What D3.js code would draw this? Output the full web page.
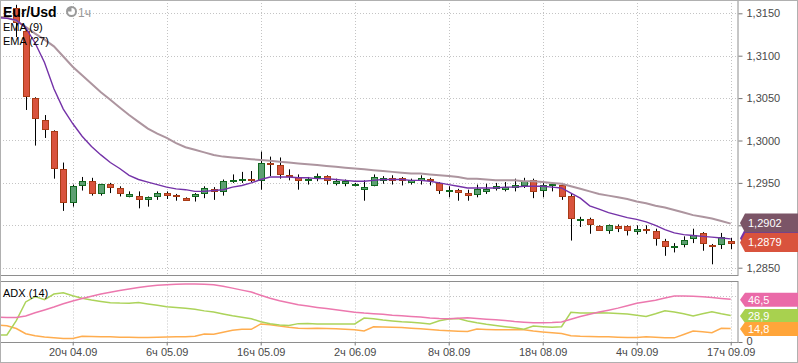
<!DOCTYPE html>
<html><head><meta charset="utf-8">
<script src="https://cdnjs.cloudflare.com/ajax/libs/d3/7.8.5/d3.min.js"></script>
<style>
body{margin:0;background:#fff;}
svg{display:block;font-family:"Liberation Sans",Arial,sans-serif;}
</style>
</head><body>
<svg id="c" width="798" height="363"></svg>
<script>
// ---------- DATA ----------
const opens  = [1.3156,1.3129,1.3050,1.3024,1.3011,1.2966,1.2928,1.2947,1.2952,1.2938,1.2949,1.2944,1.2935,1.2935,1.2931,1.2935,1.2938,1.2936,1.2932,1.2934,1.2938,1.2943,1.2940,1.2953,1.2954,1.2955,1.2953,1.2973,1.2971,1.2959,1.2957,1.2953,1.2957,1.2958,1.2950,1.2950,1.2947,1.2943,1.2947,1.2954,1.2956,1.2956,1.2951,1.2954,1.2955,1.2950,1.2940,1.2942,1.2938,1.2937,1.2941,1.2944,1.2943,1.2945,1.2948,1.2953,1.2942,1.2947,1.2948,1.2935,1.2906,1.2907,1.2899,1.2895,1.2899,1.2899,1.2893,1.2896,1.2893,1.2882,1.2874,1.2878,1.2885,1.2891,1.2877,1.2878,1.2882];
const highs  = [1.3160,1.3130,1.3051,1.3030,1.3012,1.2974,1.2948,1.2957,1.2956,1.2949,1.2950,1.2946,1.2940,1.2940,1.2934,1.2940,1.2940,1.2937,1.2933,1.2938,1.2946,1.2945,1.2954,1.2960,1.2963,1.2964,1.2987,1.2981,1.2980,1.2966,1.2960,1.2957,1.2961,1.2959,1.2955,1.2954,1.2950,1.2953,1.2960,1.2958,1.2959,1.2957,1.2955,1.2959,1.2956,1.2951,1.2946,1.2943,1.2942,1.2948,1.2949,1.2950,1.2951,1.2955,1.2956,1.2955,1.2951,1.2951,1.2950,1.2937,1.2910,1.2909,1.2900,1.2901,1.2901,1.2900,1.2900,1.2900,1.2896,1.2884,1.2879,1.2887,1.2896,1.2892,1.2878,1.2891,1.2885];
const lows   = [1.3122,1.3036,1.2994,1.3003,1.2955,1.2917,1.2922,1.2941,1.2935,1.2935,1.2938,1.2934,1.2933,1.2920,1.2922,1.2930,1.2931,1.2929,1.2929,1.2928,1.2932,1.2930,1.2935,1.2950,1.2950,1.2951,1.2942,1.2958,1.2955,1.2953,1.2942,1.2948,1.2952,1.2948,1.2947,1.2946,1.2946,1.2929,1.2946,1.2949,1.2948,1.2947,1.2948,1.2948,1.2947,1.2937,1.2933,1.2929,1.2929,1.2933,1.2937,1.2941,1.2940,1.2940,1.2944,1.2932,1.2933,1.2940,1.2930,1.2882,1.2898,1.2890,1.2894,1.2890,1.2892,1.2888,1.2889,1.2890,1.2876,1.2864,1.2868,1.2874,1.2879,1.2870,1.2854,1.2872,1.2872];
const closes = [1.3140,1.3052,1.3026,1.3013,1.2967,1.2928,1.2946,1.2952,1.2938,1.2949,1.2945,1.2938,1.2937,1.2931,1.2933,1.2938,1.2936,1.2934,1.2930,1.2937,1.2944,1.2940,1.2952,1.2954,1.2955,1.2954,1.2974,1.2972,1.2961,1.2958,1.2953,1.2955,1.2958,1.2953,1.2952,1.2952,1.2949,1.2945,1.2957,1.2956,1.2954,1.2954,1.2953,1.2956,1.2953,1.2942,1.2942,1.2939,1.2936,1.2943,1.2943,1.2946,1.2945,1.2947,1.2952,1.2940,1.2948,1.2949,1.2935,1.2909,1.2908,1.2901,1.2895,1.2900,1.2897,1.2894,1.2896,1.2894,1.2885,1.2876,1.2876,1.2883,1.2889,1.2879,1.2875,1.2886,1.2879];

// indicator series start two bars before the first visible candle
const indStart = -2;
const ema9  = [1.3145,1.3144,1.3142,1.3133,1.3115,1.3092,1.3061,1.3037,1.3020,1.3005,1.2993,1.2983,1.2974,1.2967,1.2959,1.2954,1.2951,1.2948,1.2945,1.2943,1.2942,1.2940,1.2940,1.2941,1.2942,1.2945,1.2947,1.2950,1.2954,1.2957,1.2957,1.2957,1.2956,1.2956,1.2955,1.2955,1.2954,1.2953,1.2952,1.2952,1.2953,1.2954,1.2954,1.2954,1.2953,1.2953,1.2952,1.2950,1.2948,1.2946,1.2944,1.2944,1.2944,1.2944,1.2945,1.2945,1.2946,1.2946,1.2946,1.2945,1.2944,1.2938,1.2932,1.2923,1.2919,1.2915,1.2912,1.2909,1.2907,1.2904,1.2900,1.2895,1.2891,1.2889,1.2888,1.2887,1.2886,1.2885,1.2884];
const ema27 = [1.3146,1.3145,1.3141,1.3134,1.3126,1.3119,1.3111,1.3099,1.3087,1.3077,1.3067,1.3057,1.3048,1.3039,1.3030,1.3022,1.3014,1.3008,1.3003,1.2997,1.2992,1.2989,1.2986,1.2983,1.2981,1.2980,1.2979,1.2978,1.2977,1.2976,1.2975,1.2974,1.2973,1.2972,1.2971,1.2970,1.2969,1.2968,1.2967,1.2966,1.2965,1.2964,1.2963,1.2962,1.2961,1.2961,1.2960,1.2959,1.2958,1.2957,1.2955,1.2955,1.2954,1.2953,1.2953,1.2953,1.2952,1.2952,1.2951,1.2950,1.2949,1.2946,1.2943,1.2940,1.2937,1.2935,1.2933,1.2931,1.2928,1.2926,1.2923,1.2921,1.2918,1.2915,1.2912,1.2910,1.2908,1.2905,1.2902];
const adx     = [26.9,26.7,26.7,28.4,31.8,34.9,38.1,41.6,44.6,47.3,49.8,52.2,54.1,56.1,57.7,59.3,60.7,61.7,62.4,62.9,63.2,63.2,63.0,62.3,60.7,58.7,56.5,54.4,50.9,47.7,45.0,42.7,40.6,39.1,37.7,36.5,35.2,33.8,32.5,31.5,30.8,30.2,29.2,28.5,27.9,27.1,26.1,25.5,25.2,25.8,26.5,25.6,24.8,24.2,23.4,22.3,21.6,21.0,21.0,21.2,21.9,24.8,27.8,30.3,32.7,34.7,36.9,39.5,42.2,43.8,45.5,47.9,50.1,50.1,49.9,49.2,48.6,47.5,46.5];
const diPlus  = [7.6,7.6,23.2,43.6,49.5,46.0,52.3,53.7,50.3,47.7,45.8,44.2,42.8,42.4,42.3,42.9,41.4,40.0,38.5,37.6,36.7,35.7,33.9,32.7,30.5,28.5,27.0,25.4,22.0,19.8,18.4,17.9,20.0,20.1,19.6,19.6,19.6,19.6,19.7,26.1,25.3,24.0,23.0,22.0,21.4,20.6,19.6,23.1,25.1,25.5,22.9,20.9,19.3,18.0,16.7,15.4,13.9,17.4,16.7,16.1,16.7,32.4,31.6,31.6,31.9,31.5,31.0,30.5,29.1,27.7,30.7,34.1,32.7,30.7,28.3,30.7,33.0,30.7,28.9];
const diMinus = [18.5,17.8,14.7,9.0,6.8,5.4,4.6,3.9,3.8,6.2,6.0,5.8,5.6,5.3,5.1,4.8,4.8,5.1,5.4,5.6,5.7,6.2,8.7,8.5,10.7,12.9,13.9,13.8,19.7,18.8,17.3,16.0,15.0,14.7,14.9,14.6,14.3,14.0,13.3,12.1,16.6,16.3,16.1,15.7,15.0,14.3,13.5,12.7,12.2,11.7,11.4,14.2,13.7,13.3,13.3,13.6,13.3,12.0,11.0,10.1,9.2,6.8,6.3,6.1,5.8,5.6,5.2,4.9,5.0,5.8,5.2,4.6,4.5,8.2,12.0,11.1,10.2,14.9,14.8];

const priceTicks = [1.2850,1.2900,1.2950,1.3000,1.3050,1.3100,1.3150];
const priceLabelled = [1.2850,1.2950,1.3000,1.3050,1.3100,1.3150]; // 1,2900 sits behind the value tags
const adxTicks   = [0];
const adxGrid    = [50];
const timeTickIdx   = [6,16,26,36,46,56,66,76];
const timeTickLabels= ["20ч 04.09","6ч 05.09","16ч 05.09","2ч 06.09","8ч 08.09","18ч 08.09","4ч 09.09","17ч 09.09"];

// ---------- LAYOUT ----------
const R = 738;
const mainTop = 0, mainBot = 275;
const adxTop = 281.5, adxBot = 342;

const svg = d3.select("#c");
const x  = d3.scaleLinear().domain([0,76]).range([16.3,730.7]);
const y  = d3.scaleLinear().domain([1.2850,1.3150]).range([267.7,13.3]);
const ya = d3.scaleLinear().domain([0,50]).range([342,296.1]);
const fmtP = v => d3.format(".4f")(v).replace(".",",");
const fmtA = v => d3.format(".1f")(v).replace(".",",");

const defs = svg.append("defs");
defs.append("clipPath").attr("id","cm").append("rect").attr("x",0).attr("y",mainTop).attr("width",R).attr("height",mainBot-mainTop);
defs.append("clipPath").attr("id","ca").append("rect").attr("x",0).attr("y",adxTop).attr("width",R).attr("height",adxBot-adxTop);

svg.append("rect").attr("width",798).attr("height",363).attr("fill","#fff");

// ---------- GRID ----------
const grid = svg.append("g").attr("stroke","#c4c4c4").attr("stroke-dasharray","1,2").attr("stroke-width",1);
priceTicks.forEach(v=>{
  const yy = Math.round(y(v))+0.5;
  grid.append("line").attr("x1",0).attr("x2",R).attr("y1",yy).attr("y2",yy);
});
adxGrid.forEach(v=>{
  const yy = Math.round(ya(v))+0.5;
  grid.append("line").attr("x1",0).attr("x2",R).attr("y1",yy).attr("y2",yy);
});
timeTickIdx.forEach(i=>{
  const xx = Math.round(x(i))+0.5;
  grid.append("line").attr("x1",xx).attr("x2",xx).attr("y1",mainTop).attr("y2",mainBot);
  grid.append("line").attr("x1",xx).attr("x2",xx).attr("y1",adxTop).attr("y2",adxBot);
});

// ---------- CANDLES ----------
const gc = svg.append("g").attr("clip-path","url(#cm)");
const candles = opens.map((o,i)=>({i,o,h:highs[i],l:lows[i],c:closes[i]}));
gc.selectAll("line.w").data(candles).enter().append("line")
  .attr("x1",d=>Math.round(x(d.i))+0.5).attr("x2",d=>Math.round(x(d.i))+0.5)
  .attr("y1",d=>y(d.h)).attr("y2",d=>y(d.l))
  .attr("stroke","#000").attr("stroke-width",1);
gc.selectAll("rect.b").data(candles).enter().append("rect")
  .attr("x",d=>Math.round(x(d.i))-2.5)
  .attr("width",6)
  .attr("y",d=>Math.round(y(Math.max(d.o,d.c)))+0.5)
  .attr("height",d=>Math.max(1,Math.round(y(Math.min(d.o,d.c)))-Math.round(y(Math.max(d.o,d.c)))))
  .attr("fill",d=>d.c>=d.o?"#5d9f72":"#d9533d")
  .attr("stroke",d=>d.c>=d.o?"#11691f":"#a83c16")
  .attr("stroke-width",1);

// ---------- EMA LINES ----------
const lineP = d3.line().x((d,k)=>x(k+indStart)).y(d=>y(d));
gc.append("path").attr("d",lineP(ema27)).attr("fill","none").attr("stroke","#ad959f").attr("stroke-width",2);
gc.append("path").attr("d",lineP(ema9)).attr("fill","none").attr("stroke","#7432a8").attr("stroke-width",1.4);

// ---------- ADX LINES ----------
const ga = svg.append("g").attr("clip-path","url(#ca)");
const lineA = d3.line().x((d,k)=>x(k+indStart)).y(d=>ya(d));
ga.append("path").attr("d",lineA(diMinus)).attr("fill","none").attr("stroke","#ffad4f").attr("stroke-width",1.5);
ga.append("path").attr("d",lineA(diPlus)).attr("fill","none").attr("stroke","#acd35a").attr("stroke-width",1.5);
ga.append("path").attr("d",lineA(adx)).attr("fill","none").attr("stroke","#ec78ae").attr("stroke-width",1.5);

// ---------- BORDERS ----------
const bc = "#8e8e8e";
svg.append("rect").attr("x",0.5).attr("y",0.5).attr("width",R-0.5).attr("height",mainBot).attr("fill","none").attr("stroke",bc);
svg.append("rect").attr("x",0.5).attr("y",adxTop).attr("width",R-0.5).attr("height",adxBot-adxTop+0.5).attr("fill","none").attr("stroke",bc);
svg.append("rect").attr("x",0.5).attr("y",0.5).attr("width",797).attr("height",362).attr("fill","none").attr("stroke","#b0b0b0");

// ---------- AXES ----------
function styleAxis(g){
  g.select(".domain").remove();
  g.selectAll(".tick line").attr("stroke","#777");
  g.selectAll(".tick text").attr("fill","#4a4a4a").attr("font-size","11px").attr("font-family","Liberation Sans, Arial, sans-serif");
}
svg.append("g").attr("transform",`translate(${R+0.5},0)`)
  .call(d3.axisRight(y).tickValues(priceTicks).tickFormat(v=>priceLabelled.includes(v)?fmtP(v):"").tickSize(4).tickPadding(4))
  .call(styleAxis);
svg.append("g").attr("transform",`translate(${R+0.5},0)`)
  .call(d3.axisRight(ya).tickValues(adxTicks).tickFormat(d=>String(d)).tickSize(4).tickPadding(4))
  .call(styleAxis)
  .call(g=>g.selectAll(".tick text").attr("dy","0.2em"));
svg.append("g").attr("transform",`translate(0,${adxBot+0.5})`)
  .call(d3.axisBottom(x).tickValues(timeTickIdx).tickFormat((d,k)=>timeTickLabels[k]).tickSize(3).tickPadding(3))
  .call(styleAxis);

// ---------- LAST VALUE LABELS ----------
function tag(cy, h, color, txt){
  const top = cy - h/2, bot = cy + h/2;
  svg.append("path")
    .attr("d",`M${R+2},${cy} L${R+7},${top} L798,${top} L798,${bot} L${R+7},${bot} Z`)
    .attr("fill",color);
  if(txt) svg.append("text").attr("x",R+10).attr("y",cy).attr("dy","0.35em")
    .attr("fill","#fff").attr("font-size","11px").text(txt);
}
tag(y(ema9[ema9.length-1])-0.5, 19, "#7432a8", null);
tag(y(ema27[ema27.length-1])-0.5, 19, "#7b5567", fmtP(ema27[ema27.length-1]));
tag(y(closes[closes.length-1])-0.5, 19, "#d9533d", fmtP(closes[closes.length-1]));
tag(ya(adx[adx.length-1])+0.5, 14, "#ea6aa8", fmtA(adx[adx.length-1]));
tag(ya(diPlus[diPlus.length-1])+0.5, 14, "#a8d14f", fmtA(diPlus[diPlus.length-1]));
tag(ya(diMinus[diMinus.length-1])+0.5, 14, "#ffa53a", fmtA(diMinus[diMinus.length-1]));

// ---------- TITLES ----------
svg.append("text").attr("x",3).attr("y",16.5).attr("font-size","14px").attr("font-weight","bold").attr("fill","#000").text("Eur/Usd");
const ic = svg.append("g").attr("transform","translate(71.5,11.5)");
ic.append("circle").attr("r",4.5).attr("fill","#fff").attr("stroke","#9a9a9a").attr("stroke-width",2);
ic.append("path").attr("d",d3.arc()({innerRadius:0,outerRadius:4.5,startAngle:-Math.PI/2,endAngle:0})).attr("fill","#9a9a9a");
svg.append("text").attr("x",78).attr("y",16.5).attr("font-size","12px").attr("fill","#999").text("1ч");
svg.append("text").attr("x",3).attr("y",30.5).attr("font-size","11px").attr("fill","#000").text("EMA (9)");
svg.append("text").attr("x",3).attr("y",45.2).attr("font-size","11px").attr("fill","#000").text("EMA (27)");
svg.append("text").attr("x",3).attr("y",296.5).attr("font-size","11px").attr("fill","#000").text("ADX (14)");
</script>
</body></html>
